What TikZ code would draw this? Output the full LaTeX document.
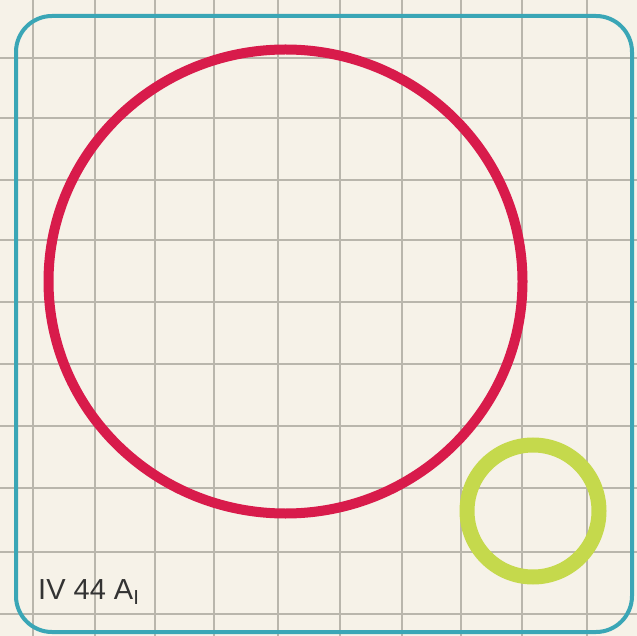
\documentclass[tikz,border=0pt]{standalone}
\usepackage{fontspec}
\setmainfont{Liberation Sans}
\definecolor{paper}{HTML}{F6F2E8}
\definecolor{gridc}{HTML}{B9B6AC}
\definecolor{framec}{HTML}{3AA6B6}
\definecolor{redc}{HTML}{D81B4B}
\definecolor{greenc}{HTML}{C5D94C}
\tikzset{
  gridline/.style={draw=gridc, line width=1.8pt},
  frame/.style={draw=framec, line width=4pt, rounded corners=36pt},
  bigring/.style={draw=redc, line width=10pt},
  smallring/.style={draw=greenc, line width=15pt},
  label/.style={font=\fontsize{29}{34}\selectfont, text=black!80, anchor=base west, inner sep=0pt}
}
\begin{document}
\begin{tikzpicture}[x=1pt,y=-1pt]
\fill[paper] (0,0) rectangle (637,636);
\useasboundingbox (0,0) rectangle (637,636);
\foreach \x in {33,95,155,214,278,340,402,461,522,587}
  \draw[gridline] (\x,0) -- (\x,636);
\foreach \y in {58,118,180,240,302,364,426,488,552,614}
  \draw[gridline] (0,\y) -- (637,\y);
\draw[frame] (16,16) rectangle (632,632);
\draw[bigring] (285.5,281.5) ellipse [x radius=237, y radius=232];
\draw[smallring] (533,511) circle [radius=66];
\node[label] (tag) at (38,599) {IV 44 A\textsubscript{I}};
\end{tikzpicture}
\end{document}
